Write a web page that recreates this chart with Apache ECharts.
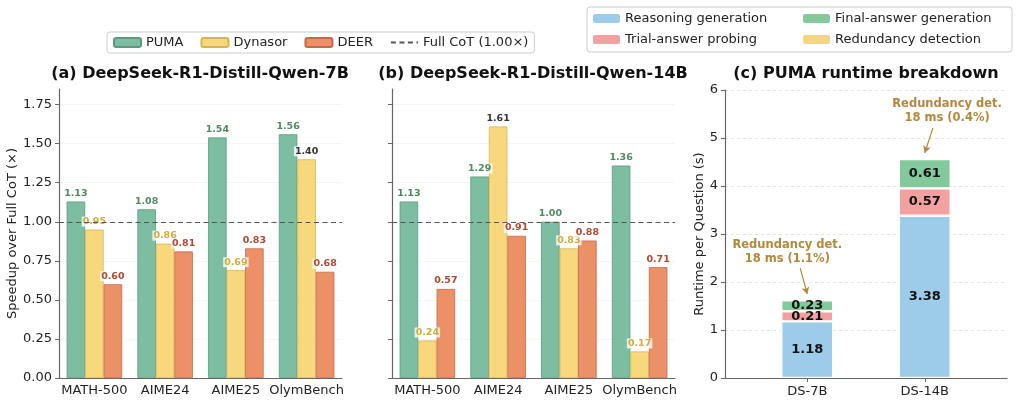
<!DOCTYPE html>
<html>
<head>
<meta charset="utf-8">
<script src="https://cdn.jsdelivr.net/npm/echarts@6/dist/echarts.min.js"></script>
<style>
html, body { margin: 0; padding: 0; background: #fff; }
#chart { width: 1019px; height: 405px; }
</style>
</head>
<body>
<div id="chart"></div>
<script>
// speedup panels
var benchmarks = ['MATH-500', 'AIME24', 'AIME25', 'OlymBench'];
var puma7b = [1.13, 1.08, 1.54, 1.56];
var dynasor7b = [0.95, 0.86, 0.69, 1.40];
var deer7b = [0.60, 0.81, 0.83, 0.68];
var puma14b = [1.13, 1.29, 1.00, 1.36];
var dynasor14b = [0.24, 1.61, 0.83, 0.17];
var deer14b = [0.57, 0.91, 0.88, 0.71];
var fullCot = 1.0;
var speedTicks = [0, 0.25, 0.5, 0.75, 1.0, 1.25, 1.5, 1.75];

// runtime breakdown panel
var models = ['DS-7B', 'DS-14B'];
var reasoningGen = [1.18, 3.38];
var trialProbe = [0.21, 0.57];
var finalGen = [0.23, 0.61];
var redundancyMs = [18, 18];
var runtimeTicks = [0, 1, 2, 3, 4, 5, 6];

var FONT = 'DejaVu Sans';
var AXIS_COLOR = '#666';

var chart = echarts.init(document.getElementById('chart'));

function methodBar(name, values, gridIdx, fill, edge, labelColor) {
	return {
		name: name,
		type: 'bar',
		xAxisIndex: gridIdx,
		yAxisIndex: gridIdx,
		barWidth: 18.5,
		barGap: '0%',
		itemStyle: { color: fill, borderColor: edge, borderWidth: 0.8 },
		data: values.map(function(v) {
			// labels above the baseline for Dynasor are drawn dark
			var c = (name == 'Dynasor' && v > fullCot) ? '#333' : labelColor;
			return { value: v, label: { color: c } };
		}),
		label: {
			show: true,
			position: 'top',
			distance: 3,
			fontFamily: FONT,
			fontSize: 9.5,
			fontWeight: 'bold',
			backgroundColor: 'rgba(255,255,255,0.8)',
			padding: [0, 1],
			formatter: function(p) { return p.value.toFixed(2); }
		}
	};
}

function baseline(gridIdx) {
	return {
		name: 'Full CoT (1.00×)',
		type: 'line',
		xAxisIndex: gridIdx,
		yAxisIndex: gridIdx,
		symbol: 'none',
		itemStyle: { color: '#555', opacity: 0 },
		lineStyle: { color: '#555', width: 1.2, type: [5, 3.5] },
		data: [],
		markLine: {
			silent: true,
			symbol: 'none',
			label: { show: false },
			lineStyle: { color: '#555', width: 1.2, type: [5, 3.5], opacity: 1 },
			data: [{ yAxis: fullCot }]
		}
	};
}

function speedX(gridIdx) {
	return {
		type: 'category',
		gridIndex: gridIdx,
		data: benchmarks,
		axisLine: { lineStyle: { color: AXIS_COLOR, width: 1.2 } },
		axisTick: { alignWithLabel: true, length: 4, lineStyle: { color: AXIS_COLOR } },
		axisLabel: { interval: 0, margin: 6, color: '#222', fontFamily: FONT, fontSize: 13 }
	};
}

function speedY(gridIdx, showLabels) {
	var y = {
		type: 'value',
		gridIndex: gridIdx,
		min: 0,
		max: 1.85,
		axisLine: { show: true, lineStyle: { color: AXIS_COLOR, width: 1.2 } },
		axisTick: { show: true, length: 4, customValues: speedTicks, lineStyle: { color: AXIS_COLOR } },
		axisLabel: {
			show: showLabels,
			customValues: speedTicks,
			margin: 7,
			color: '#222',
			fontFamily: FONT,
			fontSize: 13,
			formatter: function(v) { return v.toFixed(2); }
		},
		splitLine: { show: true, lineStyle: { color: '#e4e4e4', type: 'dotted', width: 0.8 } }
	};
	if (showLabels) {
		y.name = 'Speedup over Full CoT (×)';
		y.nameLocation = 'middle';
		y.nameGap = 39;
		y.nameTextStyle = { fontFamily: FONT, fontSize: 13, color: '#222' };
	}
	return y;
}

// value first, position second, so the stack runs along y
function pairs(values) {
	return values.map(function(v, i) { return [v, i]; });
}

function stackBar(name, values, color, showLabel) {
	return {
		name: name,
		type: 'bar',
		stack: 'runtime',
		xAxisIndex: 2,
		yAxisIndex: 2,
		barWidth: 52,
		encode: { x: 1, y: 0 },
		itemStyle: { color: color, borderColor: '#fff', borderWidth: 1.2 },
		label: {
			show: showLabel,
			position: 'inside',
			color: '#111',
			fontFamily: FONT,
			fontSize: 13,
			fontWeight: 'bold',
			formatter: function(p) { return p.value[0].toFixed(2); }
		},
		data: pairs(values)
	};
}

var redundancySec = redundancyMs.map(function(v) { return v / 1000; });
var totals = models.map(function(m, i) {
	return reasoningGen[i] + trialProbe[i] + finalGen[i] + redundancySec[i];
});
var annotText = models.map(function(m, i) {
	return 'Redundancy det.\n' + redundancyMs[i] + ' ms (' + (redundancySec[i] / totals[i] * 100).toFixed(1) + '%)';
});
var ANNOT = '#b3883a';

var redundancySeries = stackBar('Redundancy detection', redundancySec, '#f6d67c', false);
redundancySeries.markPoint = {
	silent: true,
	symbol: 'circle',
	symbolSize: 0,
	label: {
		show: true,
		position: 'inside',
		color: ANNOT,
		fontFamily: FONT,
		fontSize: 11.5,
		fontWeight: 'bold',
		lineHeight: 14,
		align: 'center',
		formatter: function(p) { return annotText[p.dataIndex]; }
	},
	data: [
		{ coord: [-0.17, 2.62] },
		{ coord: [1.19, 5.56] }
	]
};
redundancySeries.markLine = {
	silent: true,
	symbol: ['none', 'arrow'],
	symbolSize: [6, 7],
	label: { show: false },
	lineStyle: { color: ANNOT, width: 1.2, type: 'solid', curveness: 0.2 },
	data: [
		[{ coord: [-0.06, 2.29] }, { coord: [0, totals[0] + 0.11] }],
		[{ coord: [1.07, 5.21] }, { coord: [1, totals[1] + 0.11] }]
	]
};

var titleStyle = { fontFamily: FONT, fontSize: 16, fontWeight: 'bold', color: '#111' };

var option = {
	animation: false,
	backgroundColor: '#fff',
	title: [
		{ text: '(a) DeepSeek-R1-Distill-Qwen-7B', left: 200, top: 66, textAlign: 'center', padding: 0, textStyle: titleStyle },
		{ text: '(b) DeepSeek-R1-Distill-Qwen-14B', left: 533, top: 66, textAlign: 'center', padding: 0, textStyle: titleStyle },
		{ text: '(c) PUMA runtime breakdown', left: 866, top: 66, textAlign: 'center', padding: 0, textStyle: titleStyle }
	],
	legend: [
		{
			left: 107, top: 32,
			padding: [4, 6],
			itemGap: 17, itemWidth: 27, itemHeight: 9,
			borderColor: '#ccc', borderWidth: 1, borderRadius: 3,
			textStyle: { fontFamily: FONT, fontSize: 13, color: '#222' },
			data: ['PUMA', 'Dynasor', 'DEER', 'Full CoT (1.00×)']
		},
		{
			orient: 'vertical', left: 593, top: 11, padding: 0,
			itemGap: 6, itemWidth: 27, itemHeight: 9,
			textStyle: { fontFamily: FONT, fontSize: 13, color: '#222', lineHeight: 15 },
			itemStyle: { borderWidth: 0 },
			data: ['Reasoning generation', 'Trial-answer probing']
		},
		{
			orient: 'vertical', left: 803, top: 11, padding: 0,
			itemGap: 6, itemWidth: 27, itemHeight: 9,
			textStyle: { fontFamily: FONT, fontSize: 13, color: '#222', lineHeight: 15 },
			itemStyle: { borderWidth: 0 },
			data: ['Final-answer generation', 'Redundancy detection']
		}
	],
	graphic: [{
		type: 'rect',
		shape: { x: 587, y: 7, width: 425, height: 45, r: 3 },
		style: { fill: 'none', stroke: '#ccc', lineWidth: 1 },
		silent: true
	}],
	grid: [
		{ left: 59, top: 89, width: 283, bottom: 27 },
		{ left: 392, top: 89, width: 283, bottom: 27 },
		{ left: 725, top: 90, right: 12, bottom: 27 }
	],
	xAxis: [
		speedX(0),
		speedX(1),
		{
			type: 'value',
			gridIndex: 2,
			min: -0.7,
			max: 1.7,
			axisLine: { onZero: false, lineStyle: { color: AXIS_COLOR, width: 1.2 } },
			axisTick: { show: true, length: 4, customValues: [0, 1], lineStyle: { color: AXIS_COLOR } },
			axisLabel: {
				customValues: [0, 1],
				margin: 7,
				color: '#222',
				fontFamily: FONT,
				fontSize: 13,
				formatter: function(v) { return models[Math.round(v)]; }
			},
			splitLine: { show: false }
		}
	],
	yAxis: [
		speedY(0, true),
		speedY(1, false),
		{
			type: 'value',
			gridIndex: 2,
			min: 0,
			max: 6,
			interval: 1,
			name: 'Runtime per Question (s)',
			nameLocation: 'middle',
			nameGap: 19,
			nameTextStyle: { fontFamily: FONT, fontSize: 13, color: '#222' },
			axisLine: { show: true, onZero: false, lineStyle: { color: AXIS_COLOR, width: 1.2 } },
			axisTick: { show: true, length: 4, lineStyle: { color: AXIS_COLOR } },
			axisLabel: { margin: 7, color: '#222', fontFamily: FONT, fontSize: 13 },
			splitLine: { show: true, lineStyle: { color: '#ddd', type: [3, 3], width: 0.8 } }
		}
	],
	series: [
		methodBar('PUMA', puma7b, 0, '#7dbea2', '#5b9a7e', '#4f8a5e'),
		methodBar('Dynasor', dynasor7b, 0, '#f7d87c', '#d8b450', '#d2aa3e'),
		methodBar('DEER', deer7b, 0, '#ec9068', '#c46a4a', '#b0472e'),
		baseline(0),
		methodBar('PUMA', puma14b, 1, '#7dbea2', '#5b9a7e', '#4f8a5e'),
		methodBar('Dynasor', dynasor14b, 1, '#f7d87c', '#d8b450', '#d2aa3e'),
		methodBar('DEER', deer14b, 1, '#ec9068', '#c46a4a', '#b0472e'),
		baseline(1),
		stackBar('Reasoning generation', reasoningGen, '#9dcbea', true),
		stackBar('Trial-answer probing', trialProbe, '#f2a0a0', true),
		stackBar('Final-answer generation', finalGen, '#84c99b', true),
		redundancySeries
	]
};

chart.setOption(option);
</script>
</body>
</html>
